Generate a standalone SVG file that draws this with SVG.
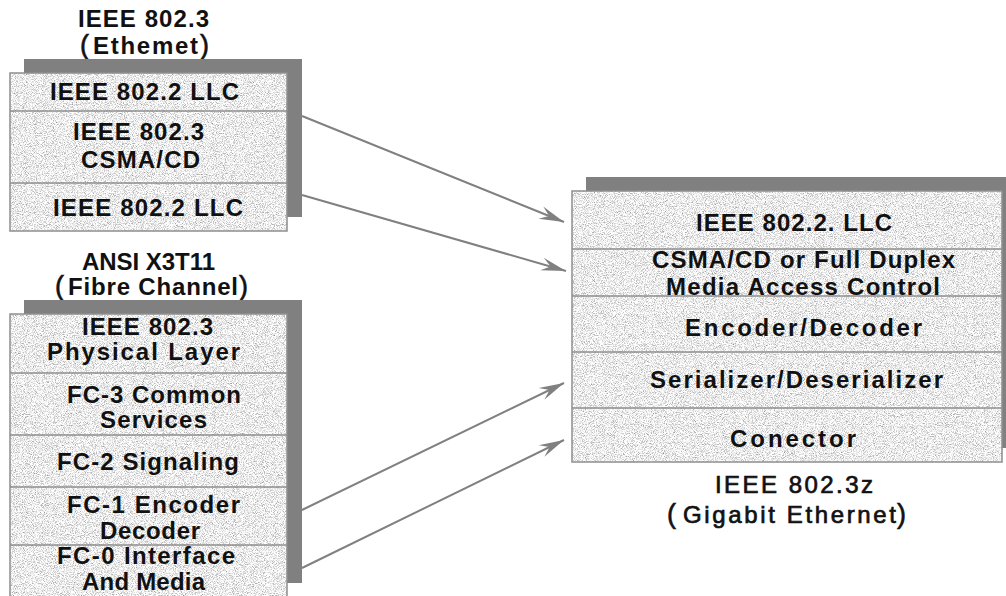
<svg xmlns="http://www.w3.org/2000/svg" width="1006" height="596" viewBox="0 0 1006 596">
  <defs>
    <!-- speckled granite fill for the layer boxes -->
    <filter id="granite" x="0" y="0" width="100%" height="100%" color-interpolation-filters="sRGB">
      <feTurbulence type="fractalNoise" baseFrequency="1.1" numOctaves="3" seed="7" result="noise"/>
      <feColorMatrix in="noise" type="matrix" values="0.9 0 0 0 0.48  0.9 0 0 0 0.48  0.9 0 0 0 0.48  0 0 0 0 1" result="gray"/>
      <feComposite in="gray" in2="SourceGraphic" operator="in"/>
    </filter>
    <marker id="barb" markerUnits="userSpaceOnUse" markerWidth="30" markerHeight="16" viewBox="-26 -8 28 16" refX="0" refY="0" orient="auto">
      <path d="M0,0 L-25,-6.5 L-16,0 L-25,6.5 Z" fill="#808080"/>
    </marker>
  </defs>
  <style>
    .shadow { fill: #808080; }
    .face { fill: #eeeeee; filter: url(#granite); }
    .frame { fill: none; stroke: #8e8e8e; stroke-width: 1.5; }
    .div { stroke: #8e8e8e; stroke-width: 1.5; }
    .lbl { font-family: "Liberation Sans", Arial, sans-serif; font-weight: bold; font-size: 24px; fill: #111; text-anchor: middle; }
    .ttl { font-family: "Liberation Sans", Arial, sans-serif; font-weight: bold; font-size: 24px; fill: #111; }
    .ttl2 { font-family: "Liberation Sans", Arial, sans-serif; font-weight: normal; font-size: 24px; fill: #111; stroke: #111; stroke-width: 0.7; }
    .par { font-family: "Liberation Sans", Arial, sans-serif; font-weight: normal; font-size: 27px; fill: #111; stroke: #111; stroke-width: 0.6; }
    .link { fill: none; stroke: #808080; stroke-width: 2; marker-end: url(#barb); }
  </style>

  <rect width="1006" height="596" fill="#ffffff"/>

  <!-- IEEE 802.3 (Ethernet) stack -->
  <g id="ethernet-stack">
    <text class="ttl" x="143.5" y="27" text-anchor="middle" textLength="131" lengthAdjust="spacing">IEEE 802.3</text>
    <text class="ttl" y="54"><tspan class="par" x="80">(</tspan><tspan x="93" textLength="105" lengthAdjust="spacing">Ethemet</tspan><tspan class="par" x="200">)</tspan></text>
    <rect class="shadow" x="24" y="59" width="278" height="158"/>
    <rect class="face" x="10" y="73" width="277" height="158"/>
    <line class="div" x1="10" y1="111" x2="287" y2="111"/>
    <line class="div" x1="10" y1="183" x2="287" y2="183"/>
    <rect class="frame" x="10" y="73" width="277" height="158"/>
    <g id="eth-llc-top">
      <text class="lbl" x="144.5" y="100" textLength="189" lengthAdjust="spacing">IEEE 802.2 LLC</text>
    </g>
    <g id="eth-csma">
      <text class="lbl" x="138.5" y="140" textLength="131" lengthAdjust="spacing">IEEE 802.3</text>
      <text class="lbl" x="140.5" y="168" textLength="119" lengthAdjust="spacing">CSMA/CD</text>
    </g>
    <g id="eth-llc-bottom">
      <text class="lbl" x="148" y="216" textLength="190" lengthAdjust="spacing">IEEE 802.2 LLC</text>
    </g>
  </g>

  <!-- ANSI X3T11 (Fibre Channel) stack -->
  <g id="fibre-stack">
    <text class="ttl" x="148.5" y="270" text-anchor="middle" textLength="133" lengthAdjust="spacing">ANSI X3T11</text>
    <text class="ttl" y="295"><tspan class="par" x="55">(</tspan><tspan x="68" textLength="170" lengthAdjust="spacing">Fibre Channel</tspan><tspan class="par" x="239">)</tspan></text>
    <rect class="shadow" x="24" y="300" width="278" height="283"/>
    <rect class="face" x="10" y="314" width="277" height="283"/>
    <line class="div" x1="10" y1="373" x2="287" y2="373"/>
    <line class="div" x1="10" y1="435" x2="287" y2="435"/>
    <line class="div" x1="10" y1="487" x2="287" y2="487"/>
    <line class="div" x1="10" y1="545" x2="287" y2="545"/>
    <rect class="frame" x="10" y="314" width="277" height="283"/>
    <g id="fc-phy">
      <text class="lbl" x="147.5" y="335" textLength="131" lengthAdjust="spacing">IEEE 802.3</text>
      <text class="lbl" x="143.5" y="360" textLength="193" lengthAdjust="spacing">Physical Layer</text>
    </g>
    <g id="fc-3">
      <text class="lbl" x="154" y="403" textLength="174" lengthAdjust="spacing">FC-3 Common</text>
      <text class="lbl" x="153.5" y="428" textLength="107" lengthAdjust="spacing">Services</text>
    </g>
    <g id="fc-2">
      <text class="lbl" x="148" y="470" textLength="182" lengthAdjust="spacing">FC-2 Signaling</text>
    </g>
    <g id="fc-1">
      <text class="lbl" x="153.5" y="513" textLength="173" lengthAdjust="spacing">FC-1 Encoder</text>
      <text class="lbl" x="150" y="539" textLength="100" lengthAdjust="spacing">Decoder</text>
    </g>
    <g id="fc-0">
      <text class="lbl" x="146" y="564" textLength="178" lengthAdjust="spacing">FC-0 Interface</text>
      <text class="lbl" x="143.5" y="590" textLength="123" lengthAdjust="spacing">And Media</text>
    </g>
  </g>

  <!-- IEEE 802.3z (Gigabit Ethernet) stack -->
  <g id="gigabit-stack">
    <rect class="shadow" x="586" y="177" width="430" height="271"/>
    <rect class="face" x="572" y="191" width="430" height="271"/>
    <line class="div" x1="572" y1="249" x2="1002" y2="249"/>
    <line class="div" x1="572" y1="296" x2="1002" y2="296"/>
    <line class="div" x1="572" y1="352" x2="1002" y2="352"/>
    <line class="div" x1="572" y1="408" x2="1002" y2="408"/>
    <rect class="frame" x="572" y="191" width="430" height="271"/>
    <g id="ge-llc">
      <text class="lbl" x="794" y="231" textLength="196" lengthAdjust="spacing">IEEE 802.2. LLC</text>
    </g>
    <g id="ge-mac">
      <text class="lbl" x="803.5" y="268" textLength="303" lengthAdjust="spacing">CSMA/CD or Full Duplex</text>
      <text class="lbl" x="803" y="295" textLength="274" lengthAdjust="spacing">Media Access Control</text>
    </g>
    <g id="ge-codec">
      <text class="lbl" x="803.5" y="336" textLength="237" lengthAdjust="spacing">Encoder/Decoder</text>
    </g>
    <g id="ge-serdes">
      <text class="lbl" x="796.5" y="388" textLength="293" lengthAdjust="spacing">Serializer/Deserializer</text>
    </g>
    <g id="ge-connector">
      <text class="lbl" x="793" y="447" textLength="126" lengthAdjust="spacing">Conector</text>
    </g>
    <text class="ttl2" x="794" y="493" text-anchor="middle" textLength="158" lengthAdjust="spacing">IEEE 802.3z</text>
    <text class="ttl2" y="523"><tspan class="par" x="667">(</tspan><tspan x="683" textLength="213" lengthAdjust="spacing">Gigabit Ethernet</tspan><tspan class="par" x="897">)</tspan></text>
  </g>

  <!-- connectors -->
  <g id="connectors">
    <line class="link" x1="302" y1="116" x2="564" y2="222"/>
    <line class="link" x1="302" y1="195" x2="566" y2="271"/>
    <line class="link" x1="302" y1="510" x2="564" y2="383"/>
    <line class="link" x1="302" y1="568" x2="564" y2="440"/>
  </g>
</svg>
